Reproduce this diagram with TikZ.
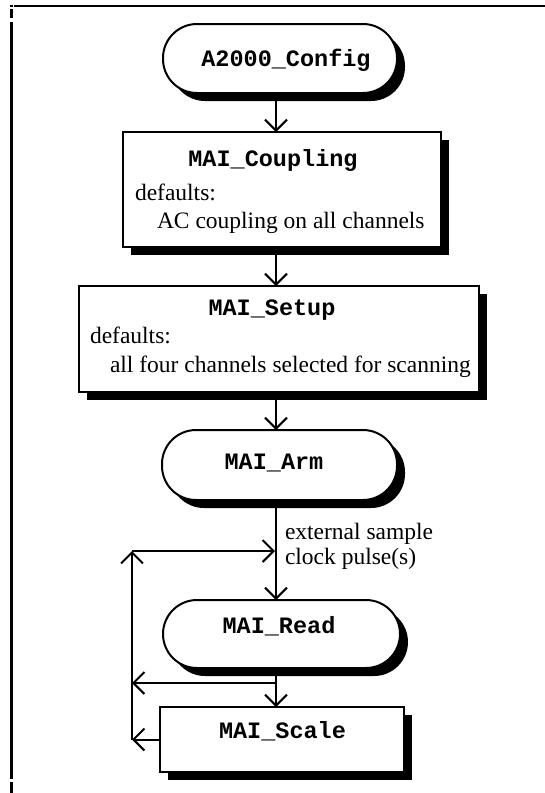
\documentclass[tikz,border=0pt]{standalone}
\usepackage{fontspec}
\setmainfont{Liberation Serif}
\newfontfamily\codefont{Liberation Mono}
\usetikzlibrary{arrows.meta,shadows}
\begin{document}
\begin{tikzpicture}[x=1pt,y=-1pt,
  every node/.style={inner sep=0pt, outer sep=0pt},
  shad/.style={drop shadow={shadow xshift=8pt, shadow yshift=-8pt, opacity=1, fill=black}},
  stadium/.style={draw, line width=2pt, fill=white, rounded corners=34pt, shad},
  procbox/.style={draw, line width=2pt, fill=white, shad},
  ttl/.style={font=\codefont\bfseries\fontsize{23.5}{28}\selectfont, anchor=base},
  bodytext/.style={font=\fontsize{23.5}{28}\selectfont, anchor=base west},
  arr/.style={line width=2pt, -{Straight Barb[length=11pt,width=22pt]}},
  frameline/.style={line width=2.5pt}
]
\useasboundingbox (0,0) rectangle (545,793);

% frame
\draw[frameline] (14,6) -- (545,6);
\fill (10,4.8) rectangle (13,7.2);
\draw[frameline] (11.5,9) -- (11.5,18);
\draw[frameline] (11.5,22) -- (11.5,779);
\draw[frameline] (11.5,782) -- (11.5,793);

% shapes
\node[stadium, minimum width=234pt, minimum height=69pt] (cfg) at (280,58.5) {};
\node[ttl] (cfgt) at (286,66) {A2000\_Config};

\node[procbox, minimum width=318pt, minimum height=115pt] (coup) at (282,189.5) {};
\node[ttl] (coupt) at (273,166) {MAI\_Coupling};
\node[bodytext] (coupd) at (135,200) {defaults:};
\node[bodytext] (coupv) at (157,228) {AC coupling on all channels};

\node[procbox, minimum width=400pt, minimum height=106pt] (set) at (279,339) {};
\node[ttl] (sett) at (272,315) {MAI\_Setup};
\node[bodytext] (setd) at (90,343) {defaults:};
\node[bodytext] (setv) at (110,372) {all four channels selected for scanning};

\node[stadium, minimum width=235pt, minimum height=70pt] (arm) at (279.5,465) {};
\node[ttl] (armt) at (274,469) {MAI\_Arm};

\node[stadium, minimum width=237pt, minimum height=68pt] (read) at (281.5,634) {};
\node[ttl] (readt) at (279,633) {MAI\_Read};

\node[procbox, minimum width=244pt, minimum height=65pt] (scale) at (282,739.5) {};
\node[ttl] (scalet) at (282.5,738) {MAI\_Scale};

\node[bodytext] (lab1) at (285,539) {external sample};
\node[bodytext] (lab2) at (285,564) {clock pulse(s)};

% connectors
\coordinate (ax) at (276,0);
\coordinate (br) at (276,683);
\coordinate (lx) at (132,0);
\coordinate (lt) at (132,551);
\coordinate (rt) at (275,551);

\draw[arr] (cfg.south -| ax) -- (coup.north -| ax);
\draw[arr] (coup.south -| ax) -- (set.north -| ax);
\draw[arr] (set.south -| ax) -- (arm.north -| ax);
\draw[arr] (arm.south -| ax) -- (read.north -| ax);
\draw[arr] (read.south -| ax) -- (scale.north -| ax);
\draw[arr] (br) -- (br -| lx);
\draw[arr] (scale.west) -- (scale.west -| lx);
\draw[arr] (scale.west -| lx) -- (lt);
\draw[arr] (lt) -- (rt);
\end{tikzpicture}
\end{document}
